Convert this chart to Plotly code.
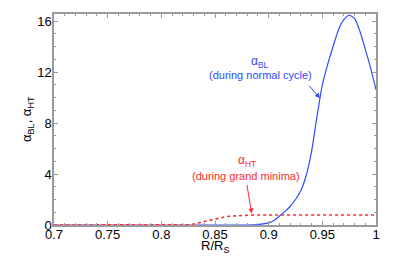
import plotly.graph_objects as go

# alpha_BL (during normal cycle)
r_bl = [0.70, 0.75, 0.80, 0.85, 0.88, 0.885, 0.89, 0.895, 0.90, 0.905, 0.91, 0.915,
        0.92, 0.925, 0.93, 0.935, 0.94, 0.945, 0.95, 0.955, 0.96, 0.965, 0.97, 0.975,
        0.98, 0.985, 0.99, 0.995, 1.0]
alpha_bl = [0, 0, 0, 0, 0, 0.01, 0.04, 0.09, 0.17, 0.35, 0.7, 1.05,
            1.45, 2.0, 2.7, 3.9, 5.8, 8.5, 11.0, 12.6, 14.0, 15.3, 16.1, 16.45,
            16.2, 15.2, 13.8, 12.3, 10.6]

# alpha_HT (during grand minima)
r_ht = [0.70, 0.75, 0.80, 0.82, 0.825, 0.83, 0.835, 0.84, 0.845, 0.85, 0.855, 0.86,
        0.865, 0.87, 0.875, 0.88, 0.885, 0.90, 0.95, 1.0]
alpha_ht = [0, 0, 0, 0, 0.02, 0.08, 0.18, 0.3, 0.4, 0.5, 0.58, 0.65,
            0.7, 0.73, 0.75, 0.77, 0.78, 0.78, 0.78, 0.78]

x_ticks = [0.7, 0.75, 0.8, 0.85, 0.9, 0.95, 1.0]
x_ticklabels = ["0.7", "0.75", "0.8", "0.85", "0.9", "0.95", "1"]
y_ticks = [0, 4, 8, 12, 16]

BLUE = "#2f4cff"
RED = "#ff2a2a"
FONT = "Liberation Sans, Arial, sans-serif"

L, R, T, B, W, H = 54, 39, 12, 37, 415, 262
pw, ph = W - L - R, H - T - B

fig = go.Figure()
fig.add_trace(go.Scatter(x=r_bl, y=alpha_bl, mode="lines",
                         line=dict(color=BLUE, width=1.2, shape="spline", smoothing=0.6),
                         showlegend=False))
fig.add_trace(go.Scatter(x=r_ht, y=alpha_ht, mode="lines",
                         line=dict(color=RED, width=1.6, dash="dot"), showlegend=False))

axis_common = dict(showgrid=False, zeroline=False, showline=True, linecolor="#9a9a9a",
                   linewidth=1.5, mirror="ticks", ticks="inside", ticklen=4,
                   tickcolor="#9a9a9a", tickwidth=1,
                   tickfont=dict(family=FONT, size=13, color="black"))

fig.update_xaxes(range=[0.7, 1.0], tickvals=x_ticks, ticktext=x_ticklabels,
                 ticklabelstandoff=-3,
                 minor=dict(dtick=0.01, ticks="inside", ticklen=2, tickcolor="#9a9a9a"),
                 **axis_common)
fig.update_yaxes(range=[0, 16.55], tickvals=y_ticks, ticklabelstandoff=-2,
                 minor=dict(dtick=1, ticks="inside", ticklen=2, tickcolor="#9a9a9a"),
                 **axis_common)

annos = [
    dict(x=0.892, y=12.8, text="α<sub>BL</sub>", color=BLUE, size=12),
    dict(x=0.8924, y=11.73, text="(during normal cycle)", color=BLUE, size=11),
    dict(x=0.8798, y=5.05, text="α<sub>HT</sub>", color=RED, size=12),
    dict(x=0.8789, y=3.88, text="(during grand minima)", color=RED, size=11),
]
for a in annos:
    fig.add_annotation(x=a["x"], y=a["y"], xref="x", yref="y", text=a["text"],
                       showarrow=False, xanchor="center", yanchor="middle",
                       font=dict(family=FONT, size=a["size"], color=a["color"]))

fig.add_annotation(x=0.9478, y=9.94, xref="x", yref="y", text="", showarrow=True,
                   ax=-12, ay=-14, arrowcolor=BLUE, arrowwidth=1, arrowhead=2, arrowsize=1)
fig.add_annotation(x=0.8842, y=0.91, xref="x", yref="y", text="", showarrow=True,
                   ax=-5, ay=-30, arrowcolor=RED, arrowwidth=1, arrowhead=2, arrowsize=1)

# axis titles (pixel positions converted to paper coords)
fig.add_annotation(x=(27 - L) / pw, y=(H - B - 118) / ph, xref="paper", yref="paper",
                   xanchor="center", yanchor="middle",
                   text="α<sub>BL</sub>, α<sub>HT</sub>", showarrow=False, textangle=-90,
                   font=dict(family=FONT, size=13, color="black"))
fig.add_annotation(x=(215 - L) / pw, y=(H - B - 247) / ph, xref="paper", yref="paper",
                   xanchor="center", yanchor="middle",
                   text="R/R<sub>S</sub>", showarrow=False,
                   font=dict(family=FONT, size=13, color="black"))

fig.update_layout(width=W, height=H, margin=dict(l=L, r=R, t=T, b=B),
                  paper_bgcolor="white", plot_bgcolor="white")
fig.write_html("out.html", config={"displayModeBar": False},
               post_script="document.body.style.margin='0px';")
